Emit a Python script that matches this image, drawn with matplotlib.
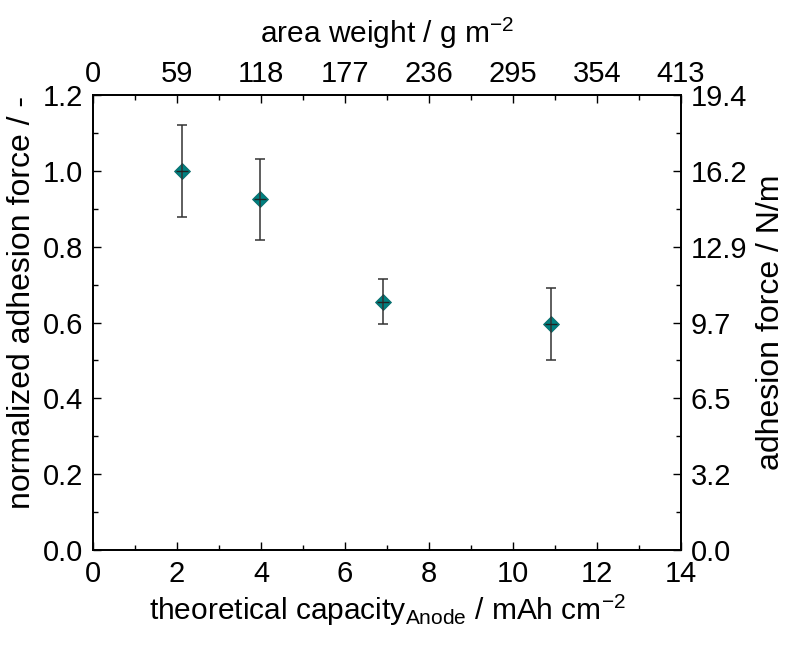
import matplotlib
matplotlib.use("Agg")
import matplotlib.pyplot as plt
from matplotlib.ticker import MultipleLocator

plt.rcParams["font.family"] = ["Liberation Sans", "DejaVu Sans"]
plt.rcParams["mathtext.fontset"] = "custom"
plt.rcParams["mathtext.rm"] = "Liberation Sans"
plt.rcParams["mathtext.it"] = "Liberation Sans:italic"

# Data
capacity = [2.11, 3.98, 6.90, 10.90]
norm_force = [1.0, 0.925, 0.655, 0.596]
norm_err = [0.122, 0.107, 0.060, 0.096]

# Secondary axis tick labels
x_ticks = [0, 2, 4, 6, 8, 10, 12, 14]
area_weight_labels = ["0", "59", "118", "177", "236", "295", "354", "413"]
y_ticks = [0.0, 0.2, 0.4, 0.6, 0.8, 1.0, 1.2]
force_labels = ["0.0", "3.2", "6.5", "9.7", "12.9", "16.2", "19.4"]

fig = plt.figure(figsize=(7.86, 6.46), dpi=100)
ax = fig.add_axes([0.1183, 0.1486, 0.748, 0.7043])

# markers, then error bars and a short horizontal dash drawn on top
ax.plot(capacity, norm_force, linestyle="none", marker="D", markersize=8.5,
        markerfacecolor="#008080", markeredgecolor="#0a6a6a", markeredgewidth=0.6, zorder=2)
ax.errorbar(capacity, norm_force, yerr=norm_err, fmt="none",
            ecolor="#333333", elinewidth=1.1, capsize=3.5, capthick=1.1, zorder=3)
ax.plot(capacity, norm_force, linestyle="none", marker="_", markersize=8,
        markeredgecolor="#222222", markeredgewidth=1.0, zorder=4)

ax.set_xlim(0, 14)
ax.set_ylim(0, 1.2)
ax.set_xticks(x_ticks)
ax.set_yticks(y_ticks)
ax.xaxis.set_minor_locator(MultipleLocator(1))
ax.yaxis.set_minor_locator(MultipleLocator(0.1))
ax.set_yticklabels([f"{v:.1f}" for v in y_ticks])

ax.set_xlabel(r"theoretical capacity$_{\mathrm{Anode}}$ / mAh cm$^{\mathrm{-2}}$", fontsize=21.5, labelpad=4)
ax.set_ylabel("normalized adhesion force / -", fontsize=23, labelpad=4)

# top axis: area weight
axt = ax.twiny()
axt.set_xlim(ax.get_xlim())
axt.set_xticks(x_ticks)
axt.set_xticklabels(area_weight_labels)
axt.xaxis.set_minor_locator(MultipleLocator(1))
axt.set_xlabel(r"area weight / g m$^{\mathrm{-2}}$", fontsize=21.5, labelpad=12)

# right axis: absolute adhesion force
axr = ax.twinx()
axr.set_ylim(ax.get_ylim())
axr.set_yticks(y_ticks)
axr.set_yticklabels(force_labels)
axr.yaxis.set_minor_locator(MultipleLocator(0.1))
axr.set_ylabel("adhesion force / N/m", fontsize=23, labelpad=6)

for a in (ax, axt, axr):
    a.tick_params(which="major", direction="in", length=6, width=1, labelsize=21, pad=7)
    a.tick_params(which="minor", direction="in", length=3.5, width=1)
    for s in a.spines.values():
        s.set_linewidth(1.1)
axt.tick_params(which="major", pad=5)

# left label sits a bit above the axis centre in the reference
fig.canvas.draw()
ax.yaxis.label.set_y(0.545)

fig.savefig("out.png", dpi=100)
